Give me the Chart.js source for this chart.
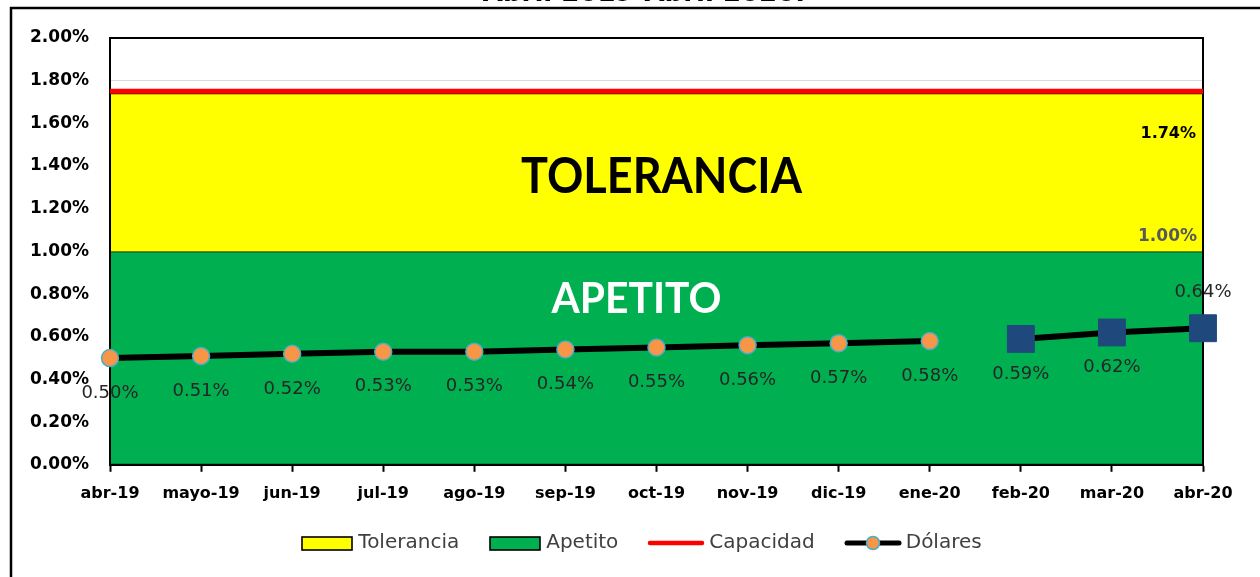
<!DOCTYPE html>
<html><head><meta charset="utf-8">
<script src="https://cdn.jsdelivr.net/npm/chart.js@4.4.1/dist/chart.umd.min.js"></script>
<style>html,body{margin:0;padding:0;background:#fff}#wrap{width:1260px;height:577px;position:relative}</style>
</head><body><div id="wrap"><canvas id="c"></canvas></div>
<script>
// ---- data ----
const categories = ['abr-19','mayo-19','jun-19','jul-19','ago-19','sep-19','oct-19','nov-19','dic-19','ene-20','feb-20','mar-20','abr-20'];
const dolares    = [0.50,0.51,0.52,0.53,0.53,0.54,0.55,0.56,0.57,0.58,0.59,0.62,0.64];
const squareFrom = 10; // from feb-20 the markers are squares (separate series in the original)
const tolerancia = [1.74,1.74,1.74,1.74,1.74,1.74,1.74,1.74,1.74,1.74,1.74,1.74,1.74];
const apetito    = [1.00,1.00,1.00,1.00,1.00,1.00,1.00,1.00,1.00,1.00,1.00,1.00,1.00];
const capacidad  = [1.75,1.75,1.75,1.75,1.75,1.75,1.75,1.75,1.75,1.75,1.75,1.75,1.75];
const yTickValues = [0.00,0.20,0.40,0.60,0.80,1.00,1.20,1.40,1.60,1.80,2.00];
const legendNames = ['Tolerancia','Apetito','Capacidad','Dólares'];
const titleText = 'Abril 2019-Abril 2020.';

const YELLOW='#FFFF00', GREEN='#00B050', RED='#FF0000', ORANGE='#F79646', CYAN='#4BACC6', NAVY='#1F497D';

// ---- legend symbols ----
function mk(w,h,draw){const c=document.createElement('canvas');c.width=w;c.height=h;draw(c.getContext('2d'));return c;}
const symTol = mk(54,17,g=>{g.fillStyle=YELLOW;g.fillRect(2,2,50,13);g.strokeStyle='#000';g.lineWidth=1.6;g.strokeRect(2,2,50,13);});
const symApe = mk(54,17,g=>{g.fillStyle=GREEN;g.fillRect(2,2,50,13);g.strokeStyle='#000';g.lineWidth=1.6;g.strokeRect(2,2,50,13);});
const symCap = mk(58,16,g=>{g.strokeStyle=RED;g.lineWidth=4.5;g.lineCap='round';g.beginPath();g.moveTo(3,8);g.lineTo(55,8);g.stroke();});
const symDol = mk(58,18,g=>{g.strokeStyle='#000';g.lineWidth=5;g.lineCap='round';g.beginPath();g.moveTo(3,9);g.lineTo(55,9);g.stroke();
  g.beginPath();g.arc(29,9,6.5,0,Math.PI*2);g.fillStyle=ORANGE;g.fill();g.strokeStyle=CYAN;g.lineWidth=1.5;g.stroke();});
const symbols=[symTol,symApe,symCap,symDol];

const decor = {
  id:'decor',
  beforeDraw(chart){
    const ctx=chart.ctx; ctx.save();
    ctx.fillStyle='#000'; ctx.font='bold 26px "DejaVu Sans"'; ctx.textAlign='center'; ctx.textBaseline='alphabetic';
    ctx.fillText(titleText,644,1);
    ctx.strokeStyle='#000'; ctx.lineWidth=2.5;
    ctx.beginPath(); ctx.moveTo(11,577); ctx.lineTo(11,8); ctx.lineTo(1260,8); ctx.stroke();
    ctx.restore();
  },
  afterDatasetDraw(chart,args){
    if(args.index!==0) return;
    const a=chart.chartArea, ctx=chart.ctx; ctx.save();
    ctx.strokeStyle='#000'; ctx.lineWidth=2;
    ctx.strokeRect(a.left,a.top,a.right-a.left,a.bottom-a.top);
    ctx.restore();
  },
  afterDatasetsDraw(chart){
    const ctx=chart.ctx, a=chart.chartArea; ctx.save();
    // zone captions
    ctx.textAlign='center'; ctx.textBaseline='alphabetic';
    ctx.fillStyle='#000'; ctx.font='bold 49px Lato';
    ctx.fillText('TOLERANCIA',(a.left+a.right)/2+5,193,281);
    ctx.fillStyle='#fff'; ctx.font='bold 42px Lato';
    ctx.fillText('APETITO',(a.left+a.right)/2-20,313,170);
    // dolares labels
    ctx.font='18px "DejaVu Sans"'; ctx.fillStyle='#262626'; ctx.textBaseline='middle';
    [3,4].forEach(di=>{
      const meta=chart.getDatasetMeta(di), d=chart.data.datasets[di].data;
      meta.data.forEach((el,i)=>{
        const v=d[i]; if(v==null) return;
        const above = i===categories.length-1;
        ctx.fillText(v.toFixed(2)+'%', el.x, el.y+(above?-36:35));
      });
    });
    // threshold labels
    const last=categories.length-1;
    const tEl=chart.getDatasetMeta(0).data[last], aEl=chart.getDatasetMeta(1).data[last];
    ctx.textAlign='right';
    ctx.font='bold 16px "DejaVu Sans"'; ctx.fillStyle='#000';
    ctx.fillText(tolerancia[last].toFixed(2)+'%', tEl.x-7, tEl.y+40);
    ctx.font='bold 17px "DejaVu Sans"'; ctx.fillStyle='#595959';
    ctx.fillText(apetito[last].toFixed(2)+'%', aEl.x-6, aEl.y-15);
    ctx.restore();
  },
  afterDraw(chart){
    // legend (drawn here to reproduce the original line+marker symbols)
    const ctx=chart.ctx; ctx.save();
    ctx.font='20px "DejaVu Sans"'; ctx.fillStyle='#404040'; ctx.textAlign='left'; ctx.textBaseline='middle';
    const gapSym=4, gapItem=29, cy=543, center=641;
    const widths=legendNames.map((n,i)=>symbols[i].width+gapSym+ctx.measureText(n).width);
    const total=widths.reduce((s,w)=>s+w,0)+gapItem*(legendNames.length-1);
    let x=center-total/2;
    legendNames.forEach((n,i)=>{
      const s=symbols[i];
      ctx.drawImage(s,Math.round(x),Math.round(cy-s.height/2));
      ctx.fillText(n,x+s.width+gapSym,cy);
      x+=widths[i]+gapItem;
    });
    ctx.restore();
  }
};

new Chart(document.getElementById('c'),{
  type:'line',
  data:{
    labels:categories,
    datasets:[
      {label:legendNames[0],data:tolerancia,backgroundColor:YELLOW,borderColor:'#000',borderWidth:1.5,pointRadius:0,fill:1,order:4,tension:0},
      {label:legendNames[1],data:apetito,backgroundColor:GREEN,borderColor:'#000',borderWidth:1.5,pointRadius:0,fill:'origin',order:5,tension:0},
      {label:legendNames[2],data:capacidad,borderColor:RED,borderWidth:5,pointRadius:0,fill:false,order:2},
      {label:legendNames[3],data:dolares.map((v,i)=>i<squareFrom?v:null),borderColor:'#000',borderWidth:6,
        pointRadius:8.5,pointBackgroundColor:ORANGE,pointBorderColor:CYAN,pointBorderWidth:1.5,fill:false,order:0,clip:false,spanGaps:false},
      {label:legendNames[3]+'_sq',data:dolares.map((v,i)=>i>=squareFrom?v:null),borderColor:'#000',borderWidth:6,
        pointStyle:'rect',pointRadius:19,pointBackgroundColor:NAVY,pointBorderColor:NAVY,pointBorderWidth:1,fill:false,order:1,clip:false,spanGaps:false}
    ]
  },
  options:{
    responsive:true,maintainAspectRatio:false,animation:false,
    layout:{padding:{left:0,right:57,top:38,bottom:62}},
    interaction:{mode:null},
    plugins:{
      tooltip:{enabled:false},
      title:{display:false},
      legend:{display:false}
    },
    scales:{
      x:{offset:false,
        grid:{drawOnChartArea:false,drawTicks:true,tickLength:7,color:'#000',tickWidth:2},
        border:{display:true,color:'#000',width:2},
        ticks:{autoSkip:false,maxRotation:0,minRotation:0,padding:12,color:'#000',font:{family:'"DejaVu Sans"',size:16,weight:'bold'}}
      },
      y:{min:yTickValues[0],max:yTickValues[yTickValues.length-1],
        afterFit:s=>{s.width=110;},
        afterBuildTicks:s=>{s.ticks=yTickValues.map(v=>({value:v}));},
        grid:{color:'#D9D9D9',lineWidth:1,drawTicks:false},
        border:{display:true,color:'#000',width:2},
        ticks:{padding:21,color:'#000',font:{family:'"DejaVu Sans"',size:17,weight:'bold'},callback:v=>Number(v).toFixed(2)+'%'}
      }
    }
  },
  plugins:[decor]
});
</script></body></html>
